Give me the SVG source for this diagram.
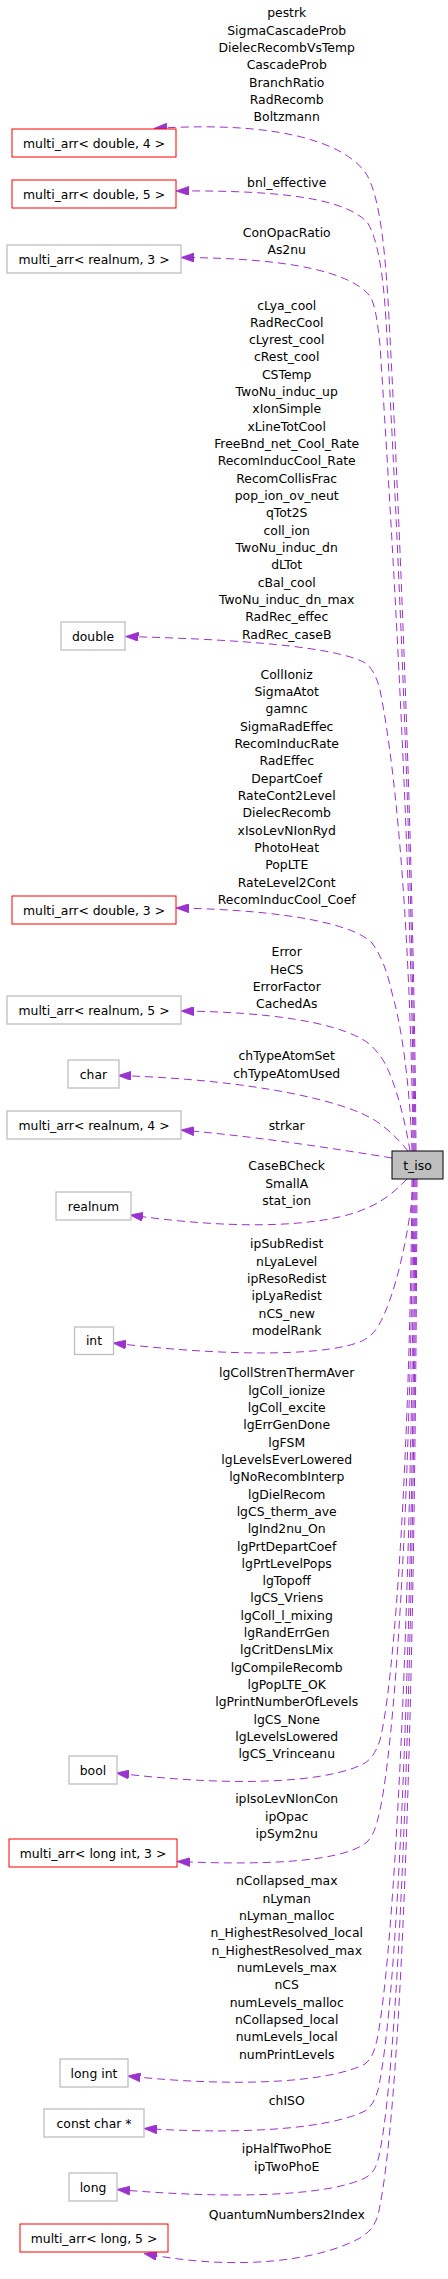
<svg xmlns="http://www.w3.org/2000/svg" width="448" height="2279" viewBox="0 0 448 2279">
<style>
text{font-family:"DejaVu Sans","Liberation Sans",sans-serif;font-size:12.4px;fill:#000}
.nt{text-anchor:middle}
.lb{text-anchor:middle}
.red{fill:#fff;stroke:#ff0000;stroke-width:1}
.grey{fill:#fff;stroke:#bfbfbf;stroke-width:1.3}
.main{fill:#bfbfbf;stroke:#000;stroke-width:1}
.e{fill:none;stroke:#9a32cd;stroke-width:1;stroke-dasharray:8,5;marker-end:url(#ah)}
</style>
<defs>
<marker id="ah" viewBox="0 0 13 9" refX="13" refY="4.5" markerWidth="13" markerHeight="9" markerUnits="userSpaceOnUse" orient="auto">
<polygon points="0,0 13,4.5 0,9" fill="#9a32cd" stroke="#9a32cd" stroke-width="0.8"/>
</marker>
</defs>
<rect width="448" height="2279" fill="#fff"/>
<g id="connectors">
<path class="e" d="M416,1151 C414,850 398,480 388,300 C384,235 378,195 367,175 C348,145 285,120 154,128.5"/>
<path class="e" d="M415,1151 C413,850 395,480 386,320 C383,270 377,237 367,222 C345,200 290,190 176,191"/>
<path class="e" d="M414,1151 C412,850 390,500 380,345 C377,318 375,305 370,296 C350,272 290,258 181,257.5"/>
<path class="e" d="M413,1151 C411,950 398,780 380,690 C377,678 373,670 367,664 C345,650 270,640 125.5,636.5"/>
<path class="e" d="M412,1151 C410,1080 400,1020 393,997 C388,975 383,958 372,943 C355,925 290,910 176,908"/>
<path class="e" d="M410,1151 C405,1120 395,1080 383,1060 C375,1048 368,1042 360,1038 C330,1022 270,1012 181,1011"/>
<path class="e" d="M408,1151 C395,1135 380,1122 367,1116 C340,1102 260,1080 118,1075.5"/>
<path class="e" d="M392,1158 C330,1148 260,1137 181,1130"/>
<path class="e" d="M407,1179 C395,1192 380,1203 367,1208 C330,1225 250,1232 130,1215"/>
<path class="e" d="M414,1179 C410,1230 395,1300 377,1328 C372,1335 368,1338 362,1341 C330,1355 240,1358 113,1343"/>
<path class="e" d="M412,1179 C410,1450 395,1680 380,1740 C376,1752 372,1758 365,1763 C330,1782 240,1788 116,1773"/>
<path class="e" d="M413,1179 C411,1500 395,1740 380,1810 C376,1828 373,1836 367,1842 C345,1860 280,1866 177,1861.5"/>
<path class="e" d="M414,1179 C412,1600 395,1950 377,2040 C374,2052 372,2058 365,2064 C330,2082 240,2088 127.5,2076"/>
<path class="e" d="M415,1179 C413,1650 398,2000 378,2090 C375,2100 372,2106 365,2111 C330,2128 250,2135 144,2128.5"/>
<path class="e" d="M416,1179 C414,1700 398,2080 378,2160 C375,2170 372,2174 365,2178 C330,2195 240,2200 117,2189.5"/>
<path class="e" d="M417,1179 C415,1750 400,2120 378,2215 C375,2225 370,2232 360,2238 C320,2260 240,2272 144,2253.5"/>
</g>
<g id="labels">
<text class="lb" x="286.7" y="17.2">pestrk<tspan x="286.7" dy="17.33">SigmaCascadeProb</tspan><tspan x="286.7" dy="17.33">DielecRecombVsTemp</tspan><tspan x="286.7" dy="17.33">CascadeProb</tspan><tspan x="286.7" dy="17.33">BranchRatio</tspan><tspan x="286.7" dy="17.33">RadRecomb</tspan><tspan x="286.7" dy="17.33">Boltzmann</tspan></text>
<text class="lb" x="286.7" y="187.2">bnl_effective</text>
<text class="lb" x="286.7" y="236.8">ConOpacRatio<tspan x="286.7" dy="17.33">As2nu</tspan></text>
<text class="lb" x="286.7" y="309.5">cLya_cool<tspan x="286.7" dy="17.33">RadRecCool</tspan><tspan x="286.7" dy="17.33">cLyrest_cool</tspan><tspan x="286.7" dy="17.33">cRest_cool</tspan><tspan x="286.7" dy="17.33">CSTemp</tspan><tspan x="286.7" dy="17.33">TwoNu_induc_up</tspan><tspan x="286.7" dy="17.33">xIonSimple</tspan><tspan x="286.7" dy="17.33">xLineTotCool</tspan><tspan x="286.7" dy="17.33">FreeBnd_net_Cool_Rate</tspan><tspan x="286.7" dy="17.33">RecomInducCool_Rate</tspan><tspan x="286.7" dy="17.33">RecomCollisFrac</tspan><tspan x="286.7" dy="17.33">pop_ion_ov_neut</tspan><tspan x="286.7" dy="17.33">qTot2S</tspan><tspan x="286.7" dy="17.33">coll_ion</tspan><tspan x="286.7" dy="17.33">TwoNu_induc_dn</tspan><tspan x="286.7" dy="17.33">dLTot</tspan><tspan x="286.7" dy="17.33">cBal_cool</tspan><tspan x="286.7" dy="17.33">TwoNu_induc_dn_max</tspan><tspan x="286.7" dy="17.33">RadRec_effec</tspan><tspan x="286.7" dy="17.33">RadRec_caseB</tspan></text>
<text class="lb" x="286.7" y="678.8">CollIoniz<tspan x="286.7" dy="17.33">SigmaAtot</tspan><tspan x="286.7" dy="17.33">gamnc</tspan><tspan x="286.7" dy="17.33">SigmaRadEffec</tspan><tspan x="286.7" dy="17.33">RecomInducRate</tspan><tspan x="286.7" dy="17.33">RadEffec</tspan><tspan x="286.7" dy="17.33">DepartCoef</tspan><tspan x="286.7" dy="17.33">RateCont2Level</tspan><tspan x="286.7" dy="17.33">DielecRecomb</tspan><tspan x="286.7" dy="17.33">xIsoLevNIonRyd</tspan><tspan x="286.7" dy="17.33">PhotoHeat</tspan><tspan x="286.7" dy="17.33">PopLTE</tspan><tspan x="286.7" dy="17.33">RateLevel2Cont</tspan><tspan x="286.7" dy="17.33">RecomInducCool_Coef</tspan></text>
<text class="lb" x="286.7" y="956.2">Error<tspan x="286.7" dy="17.33">HeCS</tspan><tspan x="286.7" dy="17.33">ErrorFactor</tspan><tspan x="286.7" dy="17.33">CachedAs</tspan></text>
<text class="lb" x="286.7" y="1060.2">chTypeAtomSet<tspan x="286.7" dy="17.33">chTypeAtomUsed</tspan></text>
<text class="lb" x="286.7" y="1130.2">strkar</text>
<text class="lb" x="286.7" y="1170.2">CaseBCheck<tspan x="286.7" dy="17.33">SmallA</tspan><tspan x="286.7" dy="17.33">stat_ion</tspan></text>
<text class="lb" x="286.7" y="1248.2">ipSubRedist<tspan x="286.7" dy="17.33">nLyaLevel</tspan><tspan x="286.7" dy="17.33">ipResoRedist</tspan><tspan x="286.7" dy="17.33">ipLyaRedist</tspan><tspan x="286.7" dy="17.33">nCS_new</tspan><tspan x="286.7" dy="17.33">modelRank</tspan></text>
<text class="lb" x="286.7" y="1377.2">lgCollStrenThermAver<tspan x="286.7" dy="17.33">lgColl_ionize</tspan><tspan x="286.7" dy="17.33">lgColl_excite</tspan><tspan x="286.7" dy="17.33">lgErrGenDone</tspan><tspan x="286.7" dy="17.33">lgFSM</tspan><tspan x="286.7" dy="17.33">lgLevelsEverLowered</tspan><tspan x="286.7" dy="17.33">lgNoRecombInterp</tspan><tspan x="286.7" dy="17.33">lgDielRecom</tspan><tspan x="286.7" dy="17.33">lgCS_therm_ave</tspan><tspan x="286.7" dy="17.33">lgInd2nu_On</tspan><tspan x="286.7" dy="17.33">lgPrtDepartCoef</tspan><tspan x="286.7" dy="17.33">lgPrtLevelPops</tspan><tspan x="286.7" dy="17.33">lgTopoff</tspan><tspan x="286.7" dy="17.33">lgCS_Vriens</tspan><tspan x="286.7" dy="17.33">lgColl_l_mixing</tspan><tspan x="286.7" dy="17.33">lgRandErrGen</tspan><tspan x="286.7" dy="17.33">lgCritDensLMix</tspan><tspan x="286.7" dy="17.33">lgCompileRecomb</tspan><tspan x="286.7" dy="17.33">lgPopLTE_OK</tspan><tspan x="286.7" dy="17.33">lgPrintNumberOfLevels</tspan><tspan x="286.7" dy="17.33">lgCS_None</tspan><tspan x="286.7" dy="17.33">lgLevelsLowered</tspan><tspan x="286.7" dy="17.33">lgCS_Vrinceanu</tspan></text>
<text class="lb" x="286.7" y="1803.2">ipIsoLevNIonCon<tspan x="286.7" dy="17.33">ipOpac</tspan><tspan x="286.7" dy="17.33">ipSym2nu</tspan></text>
<text class="lb" x="286.7" y="1885.2">nCollapsed_max<tspan x="286.7" dy="17.33">nLyman</tspan><tspan x="286.7" dy="17.33">nLyman_malloc</tspan><tspan x="286.7" dy="17.33">n_HighestResolved_local</tspan><tspan x="286.7" dy="17.33">n_HighestResolved_max</tspan><tspan x="286.7" dy="17.33">numLevels_max</tspan><tspan x="286.7" dy="17.33">nCS</tspan><tspan x="286.7" dy="17.33">numLevels_malloc</tspan><tspan x="286.7" dy="17.33">nCollapsed_local</tspan><tspan x="286.7" dy="17.33">numLevels_local</tspan><tspan x="286.7" dy="17.33">numPrintLevels</tspan></text>
<text class="lb" x="286.7" y="2105.2">chISO</text>
<text class="lb" x="286.7" y="2153.2">ipHalfTwoPhoE<tspan x="286.7" dy="17.33">ipTwoPhoE</tspan></text>
<text class="lb" x="286.7" y="2219.2">QuantumNumbers2Index</text>
</g>
<g id="node-t_iso"><rect class="main" x="392" y="1151" width="51" height="28"/><text class="nt" x="417.5" y="1169.5">t_iso</text></g>
<g id="node-multi_arr_double_4"><rect class="red" x="12" y="129" width="164" height="28"/><text class="nt" x="94" y="147.5">multi_arr&lt; double, 4 &gt;</text></g>
<g id="node-multi_arr_double_5"><rect class="red" x="12" y="180" width="164" height="28"/><text class="nt" x="94" y="198.5">multi_arr&lt; double, 5 &gt;</text></g>
<g id="node-multi_arr_realnum_3"><rect class="grey" x="7" y="245" width="174" height="28"/><text class="nt" x="94" y="263.5">multi_arr&lt; realnum, 3 &gt;</text></g>
<g id="node-double"><rect class="grey" x="61" y="622" width="64" height="28"/><text class="nt" x="93" y="640.5">double</text></g>
<g id="node-multi_arr_double_3"><rect class="red" x="12" y="896" width="164" height="28"/><text class="nt" x="94" y="914.5">multi_arr&lt; double, 3 &gt;</text></g>
<g id="node-multi_arr_realnum_5"><rect class="grey" x="7" y="996" width="174" height="28"/><text class="nt" x="94" y="1014.5">multi_arr&lt; realnum, 5 &gt;</text></g>
<g id="node-char"><rect class="grey" x="68" y="1060" width="51" height="28"/><text class="nt" x="93.5" y="1078.5">char</text></g>
<g id="node-multi_arr_realnum_4"><rect class="grey" x="7" y="1111" width="174" height="28"/><text class="nt" x="94" y="1129.5">multi_arr&lt; realnum, 4 &gt;</text></g>
<g id="node-realnum"><rect class="grey" x="56" y="1192" width="75" height="28"/><text class="nt" x="93.5" y="1210.5">realnum</text></g>
<g id="node-int"><rect class="grey" x="74.5" y="1327" width="39" height="27.5"/><text class="nt" x="94" y="1345.3">int</text></g>
<g id="node-bool"><rect class="grey" x="69" y="1756" width="48" height="28"/><text class="nt" x="93" y="1774.5">bool</text></g>
<g id="node-multi_arr_long_int_3"><rect class="red" x="9" y="1839" width="168" height="28"/><text class="nt" x="93" y="1857.5">multi_arr&lt; long int, 3 &gt;</text></g>
<g id="node-long_int"><rect class="grey" x="60" y="2059" width="68" height="28"/><text class="nt" x="94" y="2077.5">long int</text></g>
<g id="node-const_char_ptr"><rect class="grey" x="44" y="2109" width="100" height="28"/><text class="nt" x="94" y="2127.5">const char *</text></g>
<g id="node-long"><rect class="grey" x="69" y="2173" width="48" height="28"/><text class="nt" x="93" y="2191.5">long</text></g>
<g id="node-multi_arr_long_5"><rect class="red" x="20" y="2224" width="148" height="28"/><text class="nt" x="94" y="2242.5">multi_arr&lt; long, 5 &gt;</text></g>
</svg>
